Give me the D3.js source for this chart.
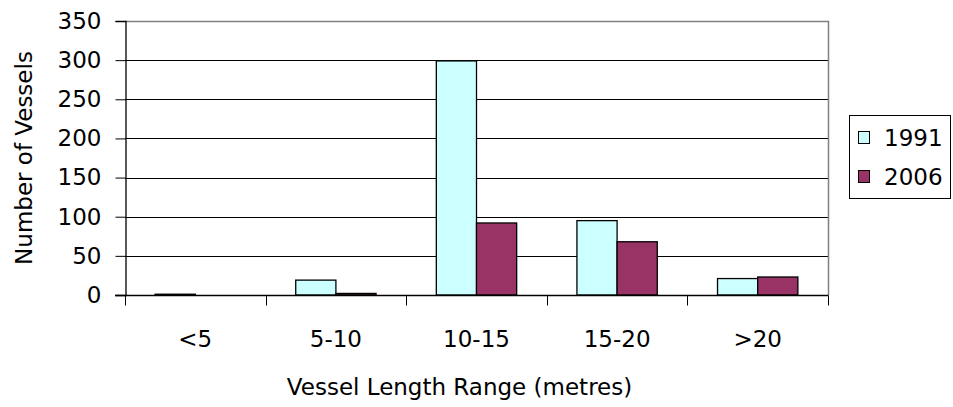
<!DOCTYPE html>
<html>
<head>
<meta charset="utf-8">
<script src="https://cdn.jsdelivr.net/npm/d3@7"></script>
<style>
  html, body { margin: 0; padding: 0; background: #fff; }
  svg { display: block; }
  text { font-family: "DejaVu Sans", sans-serif; fill: #000; }
</style>
</head>
<body>
<script>
const categories = ["<5", "5-10", "10-15", "15-20", ">20"];
const seriesNames = ["1991", "2006"];
const values1991 = [1, 19, 299, 95, 21];
const values2006 = [0, 2, 92, 68, 23];
const yTicks = [0, 50, 100, 150, 200, 250, 300, 350];
const colors = ["#CCFFFF", "#993366"];

const W = 953, H = 407;
const plot = { left: 125, right: 828, top: 21, bottom: 295 };
const fontSize = 23;

const svg = d3.select("body").append("svg").attr("width", W).attr("height", H);

const x = d3.scaleBand().domain(categories).range([plot.left, plot.right]).padding(0);
const xs = d3.scaleBand().domain(seriesNames).range([0, x.bandwidth()]).paddingInner(0).paddingOuter(0.75);
const y = d3.scaleLinear().domain([0, 350]).range([plot.bottom, plot.top]);

const data = categories.map((c, i) => ({ cat: c, vals: [values1991[i], values2006[i]] }));

// gridlines
svg.append("g").selectAll("line").data(yTicks.filter(t => t > 0 && t < 350)).join("line")
  .attr("x1", plot.left).attr("x2", plot.right)
  .attr("y1", d => Math.round(y(d)) + 0.5).attr("y2", d => Math.round(y(d)) + 0.5)
  .attr("stroke", "#000").attr("stroke-width", 1);

// plot border top/right (grey)
svg.append("path")
  .attr("d", `M${plot.left},${plot.top + 0.5}H${plot.right + 0.5}V${plot.bottom}`)
  .attr("fill", "none").attr("stroke", "#808080").attr("stroke-width", 1.5);

// bars
const groups = svg.append("g").selectAll("g").data(data).join("g")
  .attr("transform", d => `translate(${x(d.cat)},0)`);
groups.selectAll("rect").data(d => d.vals.map((v, i) => ({ v, s: seriesNames[i], i }))).join("rect")
  .filter(d => d.v > 0)
  .attr("x", d => xs(d.s))
  .attr("width", xs.bandwidth())
  .attr("y", d => y(d.v))
  .attr("height", d => y(0) - y(d.v))
  .attr("fill", d => colors[d.i])
  .attr("stroke", "#000").attr("stroke-width", 1.3);

// y axis
const yAxis = d3.axisLeft(y).tickValues(yTicks).tickSize(10).tickPadding(14);
const gy = svg.append("g").attr("transform", `translate(${plot.left + 0.5},0)`).call(yAxis);
gy.select(".domain").attr("stroke", "#000").attr("stroke-width", 1.3);
gy.selectAll(".tick line").attr("stroke", "#000");
gy.selectAll(".tick text").attr("font-size", fontSize).attr("font-family", "DejaVu Sans").attr("fill", "#000");

// x axis
const xAxis = d3.axisBottom(x).tickSize(0).tickPadding(0);
const gx = svg.append("g").attr("transform", `translate(0,${plot.bottom + 0.5})`).call(xAxis);
gx.select(".domain").remove();
gx.append("line").attr("x1", plot.left - 10).attr("x2", plot.right + 0.5).attr("stroke", "#000").attr("stroke-width", 1.3);
// boundary ticks
const bounds = categories.map(c => x(c)).concat([plot.right]);
gx.selectAll(".bt").data(bounds).join("line").attr("class", "bt")
  .attr("x1", d => Math.round(d) + 0.5).attr("x2", d => Math.round(d) + 0.5)
  .attr("y1", 0).attr("y2", 10).attr("stroke", "#000");
gx.selectAll(".tick text").attr("font-size", fontSize).attr("font-family", "DejaVu Sans")
  .attr("fill", "#000").attr("dy", null).attr("y", 51);

// axis titles
svg.append("text").attr("x", (plot.left + plot.right) / 2 - 17).attr("y", 395)
  .attr("text-anchor", "middle").attr("font-size", fontSize).text("Vessel Length Range (metres)");
svg.append("text").attr("transform", `translate(32,${158}) rotate(-90)`)
  .attr("text-anchor", "middle").attr("font-size", fontSize).text("Number of Vessels");

// legend
const lg = svg.append("g");
lg.append("rect").attr("x", 849.5).attr("y", 115.5).attr("width", 101).attr("height", 83)
  .attr("fill", "#fff").attr("stroke", "#000").attr("stroke-width", 1);
const legY = [138, 177];
seriesNames.forEach((s, i) => {
  lg.append("rect").attr("x", 858.5).attr("y", legY[i] - 6.5).attr("width", 11).attr("height", 12)
    .attr("fill", colors[i]).attr("stroke", "#000").attr("stroke-width", 1);
  lg.append("text").attr("x", 884).attr("y", legY[i] + 8).attr("font-size", fontSize).text(s);
});
</script>
</body>
</html>
